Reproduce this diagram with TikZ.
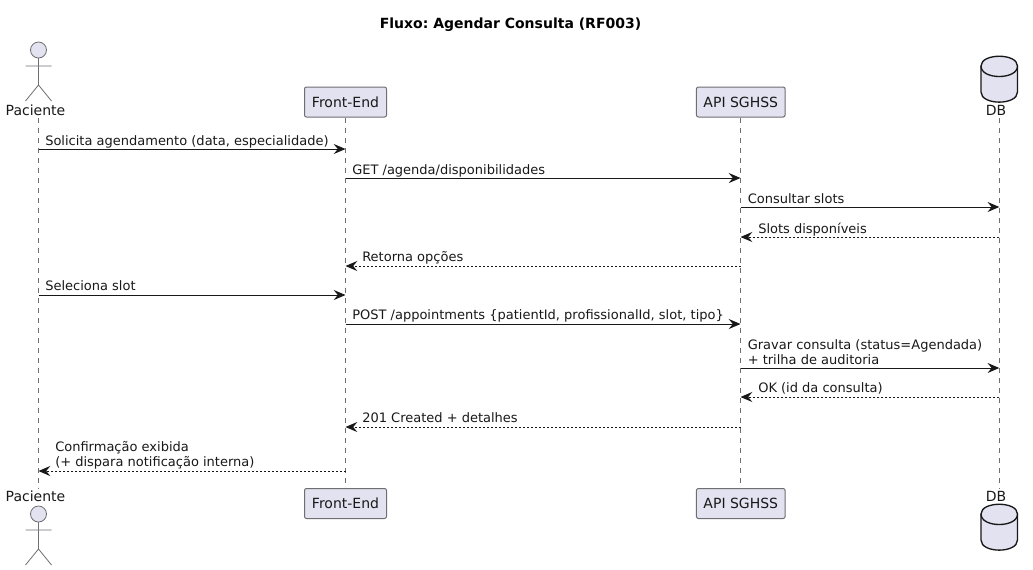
\documentclass[tikz,border=0pt]{standalone}
\usepackage{fontspec}
\setmainfont{DejaVu Sans}
\usetikzlibrary{arrows.meta}
\definecolor{pfill}{HTML}{E2E2F0}
\definecolor{pline}{HTML}{181818}
\definecolor{bline}{HTML}{6E6E73}
\tikzset{
  x=0.75pt,y=-0.75pt,
  partbox/.style={draw=bline,fill=pfill,line width=0.75pt,rounded corners=1.5pt,inner sep=0pt,minimum height=22.5pt,font=\fontsize{10.5pt}{12pt}\selectfont,text=pline},
  plabel/.style={inner sep=0pt,font=\fontsize{10.5pt}{12pt}\selectfont,text=pline},
  life/.style={draw=bline,line width=0.5pt,dash pattern=on 3.75pt off 3.75pt},
  actorline/.style={draw=bline,line width=0.6pt},
  actorhead/.style={draw=bline,fill=pfill,line width=0.6pt},
  cyl/.style={draw=pline,fill=pfill,line width=1pt},
  msg/.style={draw=pline,line width=0.75pt,-{Stealth[length=8.8pt,width=7.5pt,inset=3pt]}},
  ret/.style={msg,dash pattern=on 1.5pt off 1.5pt},
  mtext/.style={anchor=base west,inner sep=0pt,align=left,font=\fontsize{9.75pt}{11pt}\selectfont,text=pline},
}
\newcommand{\cylshape}[1]{%
  \draw[cyl] (981,#1+10) .. controls (981,#1-3) and (1017.5,#1-3) .. (1017.5,#1+10)
    -- (1017.5,#1+36) .. controls (1017.5,#1+49.5) and (981,#1+49.5) .. (981,#1+36) -- cycle;
  \draw[cyl,fill=none] (981,#1+10) .. controls (981,#1+17) and (990,#1+20.5) .. (999.2,#1+20.5)
    .. controls (1008.5,#1+20.5) and (1017.5,#1+17) .. (1017.5,#1+10);
}
\newcommand{\actorshape}[1]{%
  \draw[actorhead] (38.5,#1) circle (8);
  \draw[actorline] (38.5,#1+8) -- (38.5,#1+35) (25.5,#1+16) -- (51.5,#1+16) (25.5,#1+51) -- (38.5,#1+35) -- (51.5,#1+51);
}
\begin{document}
\frenchspacing
\begin{tikzpicture}
\useasboundingbox (0,0) rectangle (1033,569);
\node[inner sep=0pt,font=\bfseries\fontsize{10.5pt}{12pt}\selectfont,text=black] (title) at (510.5,24.5) {Fluxo: Agendar Consulta (RF003)};

% lifeline ends
\coordinate (Ptop) at (38.5,118); \coordinate (Pbot) at (38.5,489);
\coordinate (Ftop) at (345.5,118); \coordinate (Fbot) at (345.5,488);
\coordinate (Atop) at (740.5,118); \coordinate (Abot) at (740.5,488);
\coordinate (Dtop) at (999.3,118); \coordinate (Dbot) at (999.3,489);
\draw[life] (Ptop) -- (Pbot);
\draw[life] (Ftop) -- (Fbot);
\draw[life] (Atop) -- (Abot);
\draw[life] (Dtop) -- (Dbot);

% participants
\actorshape{50}
\actorshape{514}
\node[plabel] (pacT) at (35.5,110.5) {Paciente};
\node[plabel] (pacB) at (35.5,496) {Paciente};
\node[partbox,minimum width=61.5pt] (frontT) at (345.5,102) {Front-End};
\node[partbox,minimum width=61.5pt] (frontB) at (345.5,503.5) {Front-End};
\node[partbox,minimum width=66.5pt] (apiT) at (740.8,102) {API SGHSS};
\node[partbox,minimum width=66.5pt] (apiB) at (740.8,503.5) {API SGHSS};
\cylshape{56}
\cylshape{504}
\node[plabel] (dbT) at (996,110.5) {DB};
\node[plabel] (dbB) at (996,496) {DB};

% messages
\foreach \y in {149,178,207,237,266,295,324,368,397,427,471}{
  \coordinate (P\y) at (38.5,\y);
  \coordinate (F\y) at (345.5,\y);
  \coordinate (A\y) at (740.5,\y);
  \coordinate (D\y) at (999.3,\y);
}
\draw[msg] (P149) -- (F149);
\node[mtext] (m1) at (45,145) {Solicita agendamento (data, especialidade)};
\draw[msg] (F178) -- (A178);
\node[mtext] (m2) at (352,174) {GET /agenda/disponibilidades};
\draw[msg] (A207) -- (D207);
\node[mtext] (m3) at (747.5,203) {Consultar slots};
\draw[ret] (D237) -- (A237);
\node[mtext] (m4) at (758,233) {Slots disponíveis};
\draw[ret] (A266) -- (F266);
\node[mtext] (m5) at (362,261) {Retorna opções};
\draw[msg] (P295) -- (F295);
\node[mtext] (m6) at (45,290) {Seleciona slot};
\draw[msg] (F324) -- (A324);
\node[mtext] (m7) at (352,319) {POST /appointments \{patientId, profissionalId, slot, tipo\}};
\draw[msg] (A368) -- (D368);
\node[mtext] (m8) at (747.5,364) {Gravar consulta (status=Agendada)\\+ trilha de auditoria};
\draw[ret] (D397) -- (A397);
\node[mtext] (m9) at (758,392) {OK (id da consulta)};
\draw[ret] (A427) -- (F427);
\node[mtext] (m10) at (362,422) {201 Created + detalhes};
\draw[ret] (F471) -- (P471);
\node[mtext] (m11) at (55,466) {Confirmação exibida\\(+ dispara notificação interna)};
\end{tikzpicture}
\end{document}
